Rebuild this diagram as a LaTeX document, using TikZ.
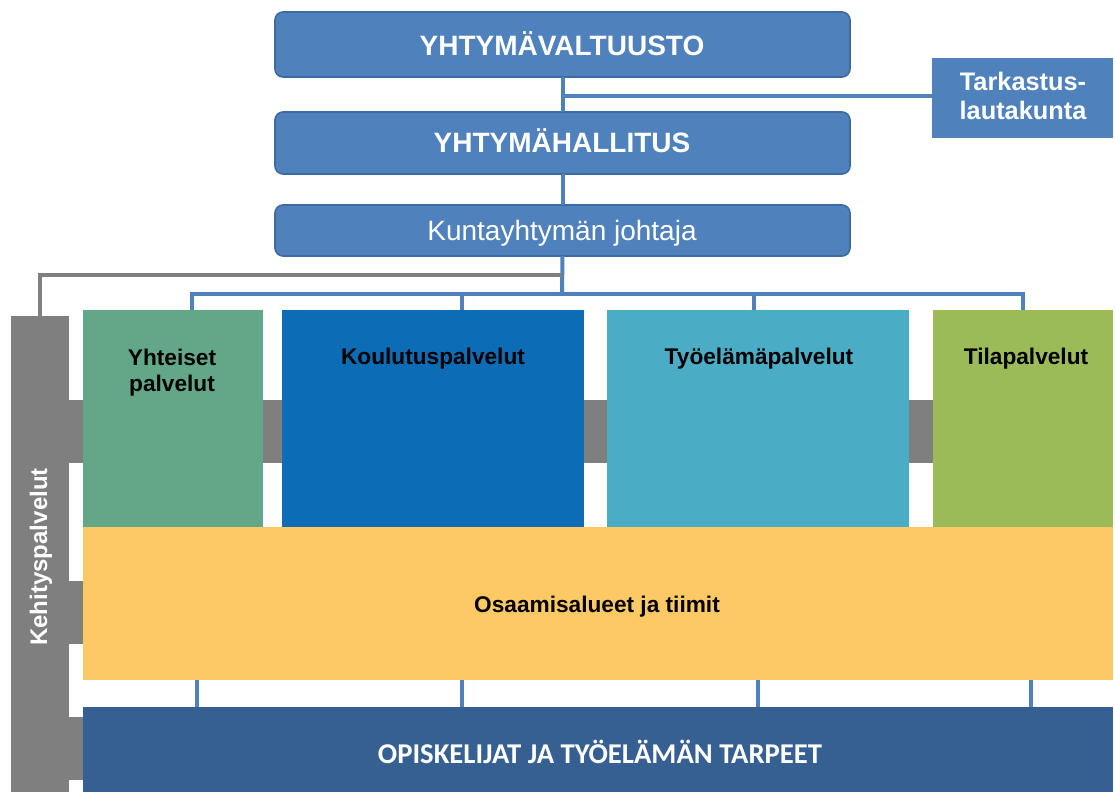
\documentclass[tikz,border=0pt]{standalone}
\usepackage{fontspec}
\setmainfont{Liberation Sans}
\newfontfamily\carl{Carlito}
\usetikzlibrary{fit}
\definecolor{topblue}{HTML}{4F81BD}
\definecolor{topedge}{HTML}{3D6B9F}
\definecolor{connblue}{HTML}{4F81BD}
\definecolor{grayc}{HTML}{7F7F7F}
\definecolor{yhtc}{HTML}{62A888}
\definecolor{koulc}{HTML}{0C6DB6}
\definecolor{tyoc}{HTML}{4BACC6}
\definecolor{tilac}{HTML}{9BBB59}
\definecolor{yelc}{HTML}{FDC964}
\definecolor{darkc}{HTML}{366092}
\begin{document}
\begin{tikzpicture}[x=0.75pt,y=-0.75pt,
  blk/.style={inner sep=0pt, outer sep=0pt, draw=none},
  topbox/.style={blk, fill=topblue, draw=topedge, line width=1.2pt, rounded corners=6pt},
  toptxt/.style={inner sep=0pt, anchor=base, text=white, font=\bfseries\fontsize{21}{25}\selectfont},
  conn/.style={draw=connblue, line width=3pt},
  gline/.style={draw=grayc, line width=3.5pt},
  lbl/.style={font=\bfseries\fontsize{17}{19.5}\selectfont, align=center, inner sep=0pt, anchor=base}
]
\useasboundingbox (0,0) rectangle (1115,792);
% grey development-services structure
\node[blk, fill=grayc, fit={(11,316)(69,792)}] (keh) {};
\node[blk, fill=grayc, fit={(69,400)(1113,463)}] (band1) {};
\node[blk, fill=grayc, fit={(69,581)(83,644)}] (band2) {};
\node[blk, fill=grayc, fit={(69,717)(83,780)}] (band3) {};
% top boxes
\node[topbox, fit={(275,12)(850,77)}] (valt) {};
\node[topbox, fit={(275,112)(850,174)}] (hall) {};
\node[topbox, fit={(275,205)(850,256)}] (joht) {};
\node[blk, fill=topblue, fit={(932,58)(1113,138)}] (tark) {};
\node[toptxt] (valtT) at (562,56) {YHTYMÄVALTUUSTO};
\node[toptxt] (hallT) at (562,152) {YHTYMÄHALLITUS};
\node[toptxt, font=\fontsize{21}{25}\selectfont] (johtT) at (562,240) {Kuntayhtymän johtaja};
\node[toptxt, font=\bfseries\fontsize{19}{21.75}\selectfont] (tarkT1) at (1023,91) {Tarkastus-};
\node[toptxt, font=\bfseries\fontsize{19}{21.75}\selectfont] (tarkT2) at (1023,120) {lautakunta};
% service boxes
\node[blk, fill=yhtc, fit={(83,310)(263,527)}] (yht) {};
\node[blk, fill=koulc, fit={(282,310)(584,527)}] (koul) {};
\node[blk, fill=tyoc, fit={(607,310)(909,527)}] (tyo) {};
\node[blk, fill=tilac, fit={(933,310)(1113,527)}] (tila) {};
\node[blk, fill=yelc, fit={(83,527)(1113,680)}] (osa) {};
\node[blk, fill=darkc, fit={(83,707)(1113,792)}] (opis) {};
% labels
\node[lbl, anchor=north] (yhtT) at (172,349) {Yhteiset\\palvelut};
\node[lbl] (koulT) at (433,364) {Koulutuspalvelut};
\node[lbl] (tyoT) at (759,364) {Työelämäpalvelut};
\node[lbl] (tilaT) at (1026,364) {Tilapalvelut};
\node[lbl] (osaT) at (597,612) {Osaamisalueet ja tiimit};
\node[inner sep=0pt, anchor=base, text=white, font=\carl\bfseries\fontsize{21.5}{24}\selectfont] (opisT) at (600,763) {OPISKELIJAT JA TYÖELÄMÄN TARPEET};
\node[inner sep=0pt, rotate=90, text=white, font=\bfseries\fontsize{18}{20}\selectfont] (kehT) at (41,557) {Kehityspalvelut};
% connectors
\draw[conn] (valt.south) -- (hall.north);
\draw[conn] (hall.south) -- (joht.north);
\coordinate (tj) at (562,96);
\draw[conn] (tj) -- (tj -| tark.west);
\coordinate (bus) at (562,294);
\draw[conn] (joht.south) -- (bus);
\coordinate (c1) at (192,310);
\coordinate (c2) at (462,310);
\coordinate (c3) at (754,310);
\coordinate (c4) at (1023,310);
\draw[conn] (c1) -- (c1 |- bus) -- (c4 |- bus) -- (c4);
\draw[conn] (c2) -- (c2 |- bus);
\draw[conn] (c3) -- (c3 |- bus);
\coordinate (g) at (562,275);
\draw[gline] (g) -| (keh.north);
\coordinate (d1) at (197,680);
\coordinate (d2) at (462,680);
\coordinate (d3) at (758,680);
\coordinate (d4) at (1031,680);
\foreach \d in {d1,d2,d3,d4} \draw[conn] (\d |- osa.south) -- (\d |- opis.north);
\end{tikzpicture}
\end{document}
